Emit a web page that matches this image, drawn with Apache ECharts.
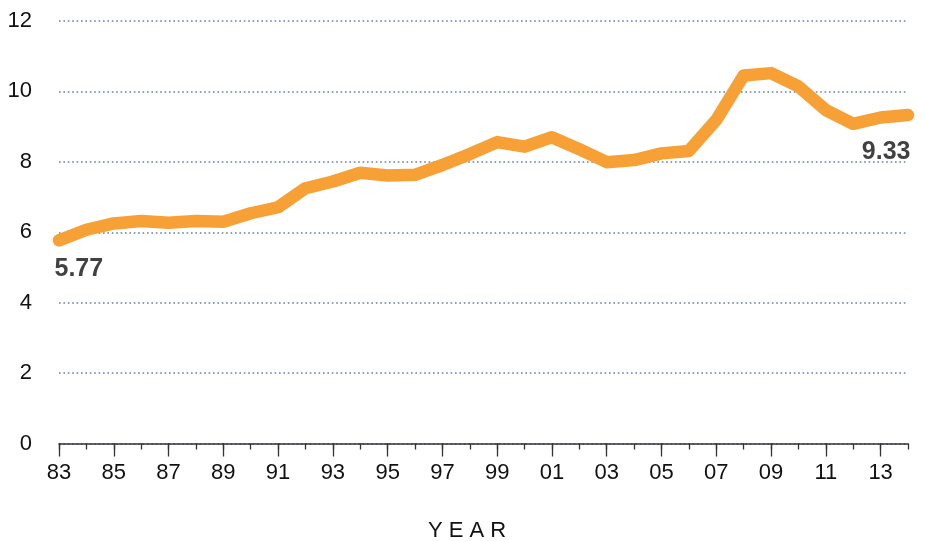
<!DOCTYPE html>
<html>
<head>
<meta charset="utf-8">
<script src="https://cdn.jsdelivr.net/npm/echarts@6/dist/echarts.min.js"></script>
<style>
html,body{margin:0;padding:0;background:#fff;}
#chart{width:925px;height:541px;}
</style>
</head>
<body>
<div id="chart"></div>
<script>
const years = ['83','84','85','86','87','88','89','90','91','92','93','94','95','96','97','98','99','00','01','02','03','04','05','06','07','08','09','10','11','12','13','14'];
const values = [5.77,6.07,6.25,6.32,6.27,6.32,6.30,6.54,6.71,7.25,7.44,7.69,7.61,7.63,7.91,8.22,8.56,8.43,8.70,8.36,7.99,8.05,8.24,8.31,9.19,10.45,10.52,10.14,9.47,9.08,9.26,9.33];
const yTicks = [0,2,4,6,8,10,12];
const xTitle = 'Y E A R';

const FONT = '"Liberation Sans", Arial, sans-serif';
const chart = echarts.init(document.getElementById('chart'));
const lastIdx = values.length - 1;

chart.setOption({
  animation: false,
  backgroundColor: '#fff',
  grid: {left: 59, right: 17, top: 21, bottom: 97.5},
  title: {
    text: xTitle, left: 423, top: 515,
    textStyle: {fontFamily: FONT, fontSize: 22, fontWeight: 'normal', color: '#111'}
  },
  xAxis: [{
    type: 'category', data: years, boundaryGap: false, position: 'bottom',
    axisLine: {show: true, lineStyle: {color: '#333', width: 1.5}},
    axisTick: {show: true, interval: 1, length: 13, lineStyle: {color: '#333', width: 1.3}},
    axisLabel: {interval: 1, margin: 18, fontFamily: FONT, fontSize: 22, color: '#111'},
    splitLine: {show: false}
  }, {
    type: 'category', data: years, boundaryGap: false, position: 'bottom',
    axisLine: {show: false},
    axisTick: {show: true, interval: 0, length: 6, lineStyle: {color: '#333', width: 1.3}},
    axisLabel: {show: false},
    splitLine: {show: false}
  }],
  yAxis: {
    type: 'value', min: yTicks[0], max: yTicks[yTicks.length-1], interval: 2,
    axisLine: {show: false}, axisTick: {show: false},
    axisLabel: {margin: 27, fontFamily: FONT, fontSize: 22, color: '#111'},
    splitLine: {show: true, lineStyle: {color: '#8a9dd0', width: 2, type: [1.6, 2.8]}}
  },
  series: [{
    type: 'line', data: values, xAxisIndex: 0,
    symbol: 'none', smooth: false,
    lineStyle: {color: '#f7a035', width: 12.5, cap: 'round', join: 'round'},
    z: 3
  }, {
    type: 'scatter', xAxisIndex: 0,
    symbolSize: 1, itemStyle: {color: 'rgba(0,0,0,0)'},
    data: [
      {value: [0, values[0]], label: {show: true, position: [-4, 29], align: 'left', verticalAlign: 'middle'}},
      {value: [lastIdx, values[lastIdx]], label: {show: true, position: [3, 38], align: 'right', verticalAlign: 'middle'}}
    ],
    label: {
      formatter: p => p.value[1].toFixed(2),
      fontFamily: FONT, fontSize: 25, fontWeight: 'bold', color: '#111'
    },
    z: 4
  }]
});
</script>
</body>
</html>
